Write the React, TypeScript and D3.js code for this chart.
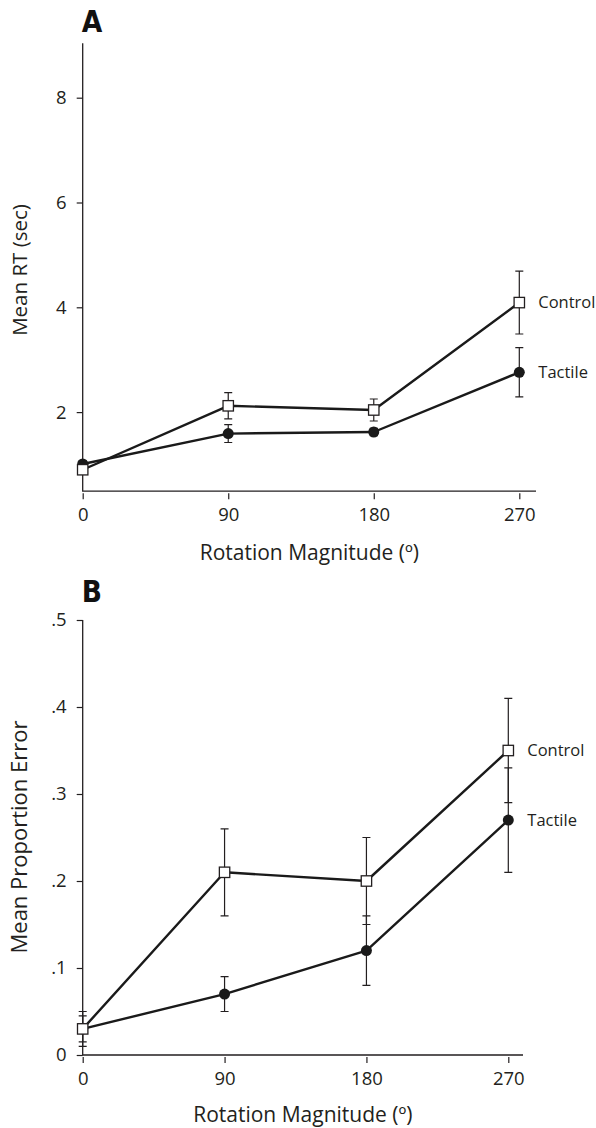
import React, { useEffect, useRef } from "react"
import * as d3 from "d3"

// x categories (rotation magnitude, degrees)
const rotations = [0, 90, 180, 270]

// panel A: mean RT (sec)
const rtControl = [0.9, 2.12, 2.04, 4.09]
const rtControlErr = [0.08, 0.25, 0.21, 0.6]
const rtTactile = [1.01, 1.59, 1.62, 2.76]
const rtTactileErr = [0.06, 0.17, 0.07, 0.47]
const rtTicks = [2, 4, 6, 8]

// panel B: mean proportion error
const peControl = [0.03, 0.21, 0.2, 0.35]
const peControlErr = [0.015, 0.05, 0.05, 0.06]
const peTactile = [0.03, 0.07, 0.12, 0.27]
const peTactileErr = [0.02, 0.02, 0.04, 0.06]
const peTicks = [0, 0.1, 0.2, 0.3, 0.4, 0.5]

const seriesNames = ["Control", "Tactile"]

const FONT = "'Open Sans', 'Noto Sans', sans-serif"
const INK = "#231f20"

function drawPanel(root, p) {
  const g = root.append("g")

  let x = d3.scaleLinear().domain([0, 270]).range(p.xRange)
  let y = d3.scaleLinear().domain(p.yDomain).range(p.yRange)
  let x0 = x(0)
  let yBase = y(p.yMin)

  // panel letter
  g.append("text")
    .attr("x", x0 - 1)
    .attr("y", p.letterY)
    .attr("font-family", "'DejaVu Sans Condensed', 'DejaVu Sans', sans-serif")
    .attr("font-stretch", "condensed")
    .attr("font-weight", "bold")
    .attr("font-size", 29.5)
    .attr("fill", "#111")
    .text(p.letter)

  // axis lines
  g.append("path")
    .attr("d", `M${x0},${y(p.yMax)}V${yBase}H${p.xEnd}`)
    .attr("fill", "none")
    .attr("stroke", INK)
    .attr("stroke-width", 1.3)

  let yAxis = g.append("g")
    .attr("transform", `translate(${x0},0)`)
    .call(d3.axisLeft(y).tickValues(p.yTicks).tickSize(6).tickPadding(10).tickFormat(p.fmt))
  yAxis.attr("font-family", FONT).attr("font-size", 18.5)
  yAxis.select(".domain").remove()
  yAxis.selectAll("line").attr("stroke", INK).attr("stroke-width", 1.2)
  yAxis.selectAll("text").attr("fill", INK)

  let xAxis = g.append("g")
    .attr("transform", `translate(0,${yBase + 2})`)
    .call(d3.axisBottom(x).tickValues(rotations).tickSize(6).tickPadding(8.5))
  xAxis.attr("font-family", FONT).attr("font-size", 18.5)
  xAxis.select(".domain").remove()
  xAxis.selectAll("line").attr("stroke", INK).attr("stroke-width", 1.2)
  xAxis.selectAll("text").attr("fill", INK)

  // axis titles
  g.append("text")
    .attr("x", (x0 + p.xEnd) / 2)
    .attr("y", p.xTitleY)
    .attr("text-anchor", "middle")
    .attr("font-family", FONT)
    .attr("font-size", 21)
    .attr("fill", INK)
    .text("Rotation Magnitude (º)")

  g.append("text")
    .attr("transform", `translate(27,${p.yTitleY}) rotate(-90)`)
    .attr("text-anchor", "middle")
    .attr("font-family", FONT)
    .attr("font-size", p.yTitleSize)
    .attr("fill", INK)
    .text(p.yTitle)

  let line = d3.line()
    .x((d, i) => x(rotations[i]))
    .y(d => y(d))

  // error bars
  p.series.forEach(s => {
    s.values.forEach((v, i) => {
      let cx = x(rotations[i])
      let lo = y(v - s.errs[i])
      let hi = y(v + s.errs[i])
      g.append("path")
        .attr("d", `M${cx},${lo}V${hi}M${cx - 4},${lo}H${cx + 4}M${cx - 4},${hi}H${cx + 4}`)
        .attr("fill", "none")
        .attr("stroke", INK)
        .attr("stroke-width", 1.2)
    })
  })

  // lines
  p.series.forEach(s => {
    g.append("path")
      .datum(s.values)
      .attr("d", line)
      .attr("fill", "none")
      .attr("stroke", "#1a1a1a")
      .attr("stroke-width", 2.4)
      .attr("stroke-linejoin", "round")
  })

  // markers
  p.series.forEach(s => {
    if (s.marker === "square") {
      g.selectAll(null)
        .data(s.values)
        .enter()
        .append("rect")
        .attr("x", (d, i) => x(rotations[i]) - 5.2)
        .attr("y", d => y(d) - 5.2)
        .attr("width", 10.4)
        .attr("height", 10.4)
        .attr("fill", "#fff")
        .attr("stroke", INK)
        .attr("stroke-width", 1.3)
    } else {
      g.selectAll(null)
        .data(s.values)
        .enter()
        .append("circle")
        .attr("cx", (d, i) => x(rotations[i]))
        .attr("cy", d => y(d))
        .attr("r", 5.5)
        .attr("fill", "#1a1a1a")
    }
    let last = s.values.length - 1
    g.append("text")
      .attr("x", x(rotations[last]) + 19)
      .attr("y", y(s.values[last]))
      .attr("dy", "0.35em")
      .attr("font-family", FONT)
      .attr("font-size", 16.5)
      .attr("fill", INK)
      .text(s.name)
  })
}

function App() {
  const ref = useRef(null)

  useEffect(() => {
    let svg = d3.select(ref.current)
    svg.selectAll("*").remove()

    drawPanel(svg, {
      letter: "A",
      letterY: 32,
      xRange: [82.7, 519.3],
      xEnd: 536,
      yDomain: [0, 8],
      yRange: [516.9, 97.7],
      yMin: 0.49,
      yMax: 9.04,
      yTicks: rtTicks,
      fmt: d3.format("d"),
      xTitleY: 560,
      yTitle: "Mean RT (sec)",
      yTitleY: 270,
      yTitleSize: 20.5,
      series: [
        { name: seriesNames[0], values: rtControl, errs: rtControlErr, marker: "square" },
        { name: seriesNames[1], values: rtTactile, errs: rtTactileErr, marker: "circle" },
      ].reverse(),
    })

    drawPanel(svg, {
      letter: "B",
      letterY: 602,
      xRange: [82.7, 508.3],
      xEnd: 523,
      yDomain: [0, 0.5],
      yRange: [1055, 620],
      yMin: 0,
      yMax: 0.5,
      yTicks: peTicks,
      fmt: d => (d === 0 ? "0" : d3.format(".1f")(d).replace(/^0/, "")),
      xTitleY: 1122,
      yTitle: "Mean Proportion Error",
      yTitleY: 837,
      yTitleSize: 22,
      series: [
        { name: seriesNames[0], values: peControl, errs: peControlErr, marker: "square" },
        { name: seriesNames[1], values: peTactile, errs: peTactileErr, marker: "circle" },
      ].reverse(),
    })
  }, [])

  return (
    <svg
      ref={ref}
      width={596}
      height={1128}
      style={{ position: "absolute", left: 0, top: 0, background: "#fff" }}
    />
  )
}

export default App
